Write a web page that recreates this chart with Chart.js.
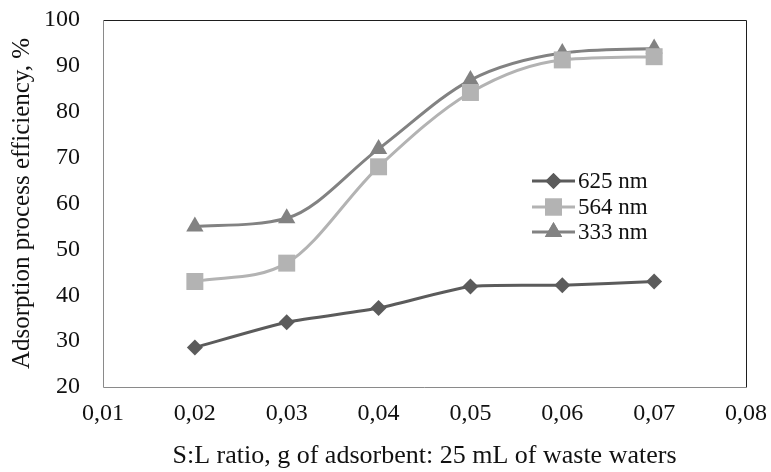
<!DOCTYPE html>
<html>
<head>
<meta charset="utf-8">
<script src="https://cdn.jsdelivr.net/npm/chart.js@4"></script>
<style>
  html, body { margin: 0; padding: 0; background: #fff; }
  #wrap { width: 771px; height: 472px; position: relative; }
</style>
</head>
<body>
<div id="wrap"><canvas id="c" width="771" height="472"></canvas></div>
<script>
// S:L ratio (g of adsorbent per 25 mL)
const ratios = [0.02, 0.03, 0.04, 0.05, 0.06, 0.07];
// adsorption efficiency, %
const eff625 = [28.6, 34.1, 37.2, 41.9, 42.2, 43.0];
const eff564 = [43.0, 47.0, 68.0, 84.2, 91.3, 92.0];
const eff333 = [55.0, 56.8, 71.9, 86.9, 92.8, 93.8];

const seriesNames = ['625 nm', '564 nm', '333 nm'];
const xTickLabels = ['0,01', '0,02', '0,03', '0,04', '0,05', '0,06', '0,07', '0,08'];
const yTickLabels = ['20', '30', '40', '50', '60', '70', '80', '90', '100'];

const serif = "'Liberation Serif', 'Times New Roman', serif";
const colors = ['#5b5b5b', '#b3b3b3', '#828282'];
const styles = ['rectRot', 'rect', 'triangle'];
const radii = [8, 12, 10];

function pts(vals) { return ratios.map((x, i) => ({ x: x, y: vals[i] })); }

const datasets = [eff625, eff564, eff333].map((vals, i) => ({
  label: seriesNames[i],
  data: pts(vals),
  borderColor: colors[i],
  backgroundColor: colors[i],
  borderWidth: 3,
  pointStyle: styles[i],
  pointRadius: radii[i],
  pointBorderWidth: 0,
  pointBackgroundColor: colors[i],
  tension: i === 0 ? 0.2 : 0.4,
  cubicInterpolationMode: i === 0 ? 'default' : 'monotone',
  fill: false
}));

// frame around the plotting area and an inset legend
const framePlugin = {
  id: 'frame',
  beforeDatasetsDraw(chart) {
    const { ctx, chartArea: a } = chart;
    ctx.save();
    ctx.lineWidth = 1;
    ctx.strokeStyle = '#1e1e1e';
    ctx.beginPath();
    ctx.moveTo(a.left + 0.5, a.top + 0.5);
    ctx.lineTo(a.right + 0.5, a.top + 0.5);
    ctx.lineTo(a.right + 0.5, a.bottom + 0.5);
    ctx.stroke();
    ctx.strokeStyle = '#8a8a8a';
    ctx.beginPath();
    ctx.moveTo(a.left + 0.5, a.top + 1);
    ctx.lineTo(a.left + 0.5, a.bottom + 0.5);
    ctx.lineTo(a.right, a.bottom + 0.5);
    ctx.stroke();
    ctx.restore();
  },
  afterDraw(chart) {
    const { ctx } = chart;
    ctx.save();
    const x0 = 532, x1 = 575, rowY = [181, 207, 232];
    ctx.font = '23px ' + serif;
    ctx.textBaseline = 'middle';
    ctx.textAlign = 'left';
    rowY.forEach((y, i) => {
      ctx.strokeStyle = colors[i];
      ctx.lineWidth = 3;
      ctx.beginPath();
      ctx.moveTo(x0, y);
      ctx.lineTo(x1, y);
      ctx.stroke();
      ctx.fillStyle = colors[i];
      Chart.helpers.drawPoint(ctx, {
        pointStyle: styles[i], radius: radii[i], borderWidth: 0
      }, (x0 + x1) / 2, y);
      ctx.fill();
      ctx.fillStyle = '#111';
      ctx.fillText(seriesNames[i], 578, y + 1);
    });
    ctx.restore();
  }
};

new Chart(document.getElementById('c'), {
  type: 'line',
  data: { datasets },
  options: {
    responsive: false,
    animation: false,
    devicePixelRatio: 1,
    layout: { padding: { top: 20, right: 25, left: 0, bottom: 0 } },
    plugins: {
      legend: { display: false },
      tooltip: { enabled: false }
    },
    scales: {
      x: {
        type: 'linear',
        min: 0.01, max: 0.08,
        afterFit: (s) => { s.height = 85; s.paddingLeft = 0; s.paddingRight = 0; },
        grid: { display: false, drawTicks: false },
        border: { display: false },
        ticks: {
          stepSize: 0.01,
          padding: 12,
          color: '#111',
          font: { family: serif, size: 24 },
          callback: (v) => xTickLabels[Math.round((v - 0.01) / 0.01)]
        },
        title: {
          display: true,
          text: 'S:L ratio, g of adsorbent: 25 mL of waste waters',
          color: '#111',
          font: { family: serif, size: 26 },
          padding: { top: 0, bottom: 0 }
        }
      },
      y: {
        min: 20, max: 100,
        afterFit: (s) => { s.width = 103; s.paddingTop = 0; s.paddingBottom = 0; },
        grid: { display: false, drawTicks: false },
        border: { display: false },
        ticks: {
          stepSize: 10,
          padding: 23,
          color: '#111',
          font: { family: serif, size: 24 },
          callback: (v) => yTickLabels[Math.round((v - 20) / 10)]
        },
        title: {
          display: true,
          text: 'Adsorption process efficiency, %',
          color: '#111',
          font: { family: serif, size: 25 },
          padding: { top: 7, bottom: 0 }
        }
      }
    }
  },
  plugins: [framePlugin]
});
</script>
</body>
</html>
